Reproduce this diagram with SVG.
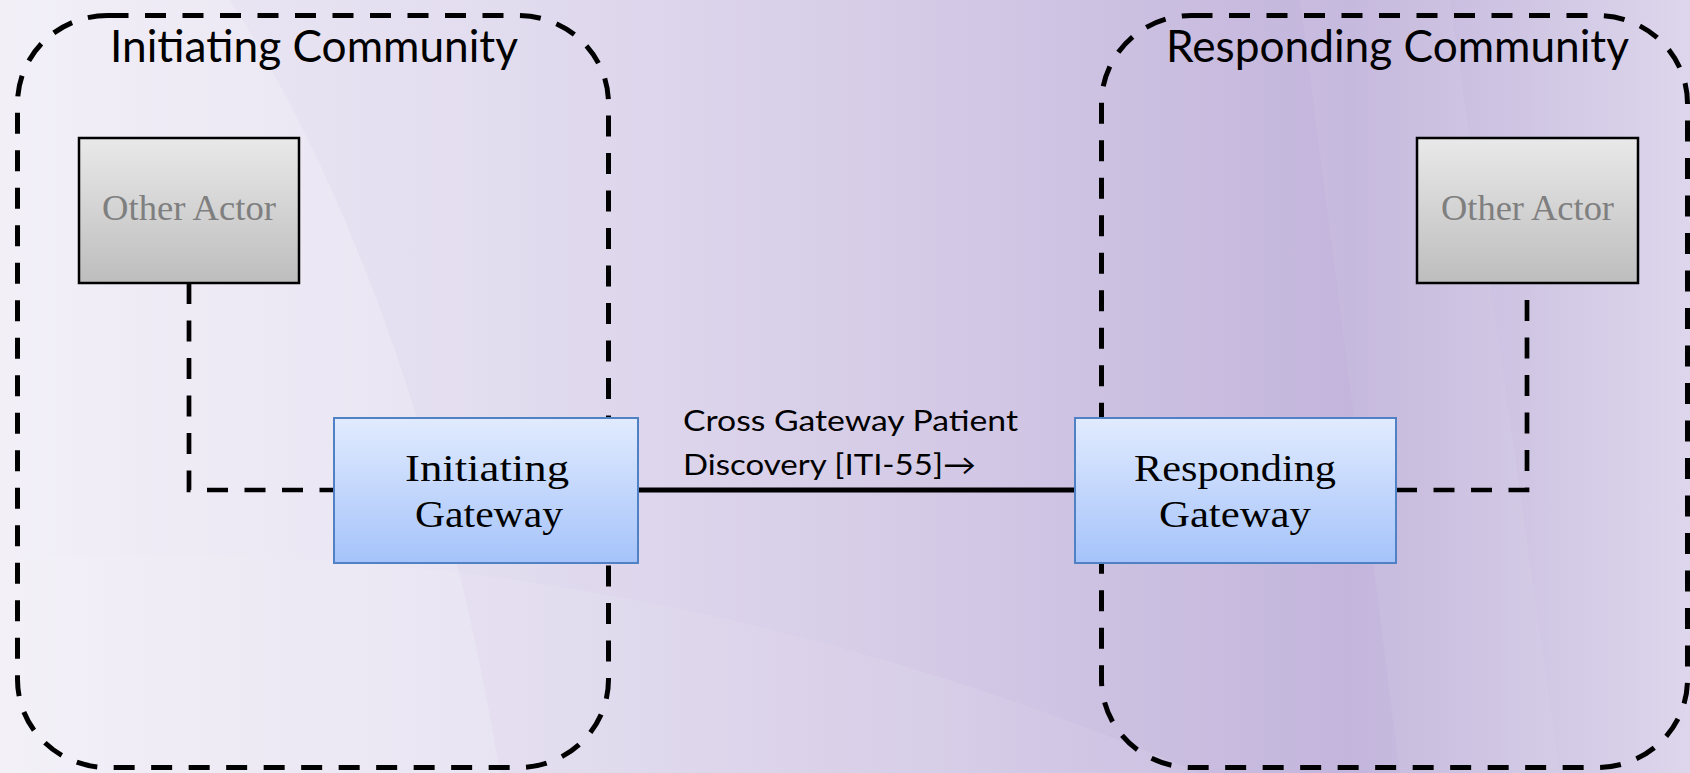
<svg xmlns="http://www.w3.org/2000/svg" width="1690" height="773" viewBox="0 0 1690 773">
  <defs>
    <linearGradient id="bg" x1="0" y1="0" x2="1" y2="0">
      <stop offset="0" stop-color="#efecf6"/>
      <stop offset="0.3" stop-color="#e2dcef"/>
      <stop offset="0.55" stop-color="#d4cae6"/>
      <stop offset="0.8" stop-color="#c3b5dc"/>
      <stop offset="0.92" stop-color="#d2c9e5"/>
      <stop offset="1" stop-color="#ddd6ec"/>
    </linearGradient>
    <linearGradient id="grey" x1="0" y1="0" x2="0" y2="1">
      <stop offset="0" stop-color="#e9e9e9"/>
      <stop offset="1" stop-color="#bdbdbd"/>
    </linearGradient>
    <linearGradient id="blue" x1="0" y1="0" x2="0" y2="1">
      <stop offset="0" stop-color="#e1ebfe"/>
      <stop offset="1" stop-color="#a5c3fa"/>
    </linearGradient>
    <style>
      .community { fill: none; stroke: #000; stroke-width: 5; stroke-dasharray: 21 16.5; }
      .ctitle { font-family: Lato, "Open Sans", sans-serif; font-size: 44px; fill: #000; }
      .actor { fill: url(#grey); stroke: #000; stroke-width: 2.5; }
      .actortxt { font-family: "Liberation Serif", serif; font-size: 35px; fill: #7f7f7f; }
      .gw { fill: url(#blue); stroke: #4f81c4; stroke-width: 2; }
      .gwtxt { font-family: "Liberation Serif", serif; font-size: 38px; fill: #000; }
      .dash { fill: none; stroke: #000; stroke-width: 4.7; stroke-dasharray: 21 16.5; }
      .solid { fill: none; stroke: #000; stroke-width: 5; }
      .label { font-family: Lato, "Open Sans", sans-serif; font-size: 29px; fill: #000; }
    </style>
  </defs>

  <!-- background -->
  <rect x="0" y="0" width="1690" height="773" fill="url(#bg)"/>
  <path d="M0,0 L230,0 Q420,300 500,773 L0,773 Z" fill="#ffffff" opacity="0.2"/>
  <path d="M0,560 Q600,520 1200,773 L0,773 Z" fill="#ffffff" opacity="0.08"/>
  <path d="M1300,0 L1450,0 L1560,773 L1400,773 Z" fill="#ffffff" opacity="0.06"/>

  <!-- communities -->
  <g id="initiating-community">
    <rect class="community" x="17.5" y="15.5" width="591" height="752" rx="90" ry="88"/>
    <text class="ctitle" x="110" y="62" textLength="408" lengthAdjust="spacingAndGlyphs">Initiating Community</text>
  </g>
  <g id="responding-community">
    <rect class="community" x="1101.5" y="15.5" width="586" height="752" rx="90" ry="88"/>
    <text class="ctitle" x="1166" y="62" textLength="463" lengthAdjust="spacingAndGlyphs">Responding Community</text>
  </g>

  <!-- connectors -->
  <g id="connectors">
    <path class="dash" d="M189,283 L189,490 L334,490"/>
    <path class="dash" d="M1396,490 L1527,490 L1527,283"/>
    <path class="solid" d="M638,490 L1075,490"/>
    <text class="label" x="683" y="431" textLength="335" lengthAdjust="spacingAndGlyphs">Cross Gateway Patient</text>
    <text class="label" x="683" y="475" textLength="293" lengthAdjust="spacingAndGlyphs">Discovery [ITI-55]→</text>
  </g>

  <!-- nodes -->
  <g id="other-actor-left">
    <rect class="actor" x="79" y="138" width="220" height="145"/>
    <text class="actortxt" x="102" y="220" textLength="174" lengthAdjust="spacingAndGlyphs">Other Actor</text>
  </g>
  <g id="other-actor-right">
    <rect class="actor" x="1417" y="138" width="221" height="145"/>
    <text class="actortxt" x="1441" y="220" textLength="173" lengthAdjust="spacingAndGlyphs">Other Actor</text>
  </g>
  <g id="initiating-gateway">
    <rect class="gw" x="334" y="418" width="304" height="145"/>
    <text class="gwtxt" x="405" y="481" textLength="164" lengthAdjust="spacingAndGlyphs">Initiating</text>
    <text class="gwtxt" x="415" y="527" textLength="148" lengthAdjust="spacingAndGlyphs">Gateway</text>
  </g>
  <g id="responding-gateway">
    <rect class="gw" x="1075" y="418" width="321" height="145"/>
    <text class="gwtxt" x="1134" y="481" textLength="202" lengthAdjust="spacingAndGlyphs">Responding</text>
    <text class="gwtxt" x="1159" y="527" textLength="152" lengthAdjust="spacingAndGlyphs">Gateway</text>
  </g>
</svg>
